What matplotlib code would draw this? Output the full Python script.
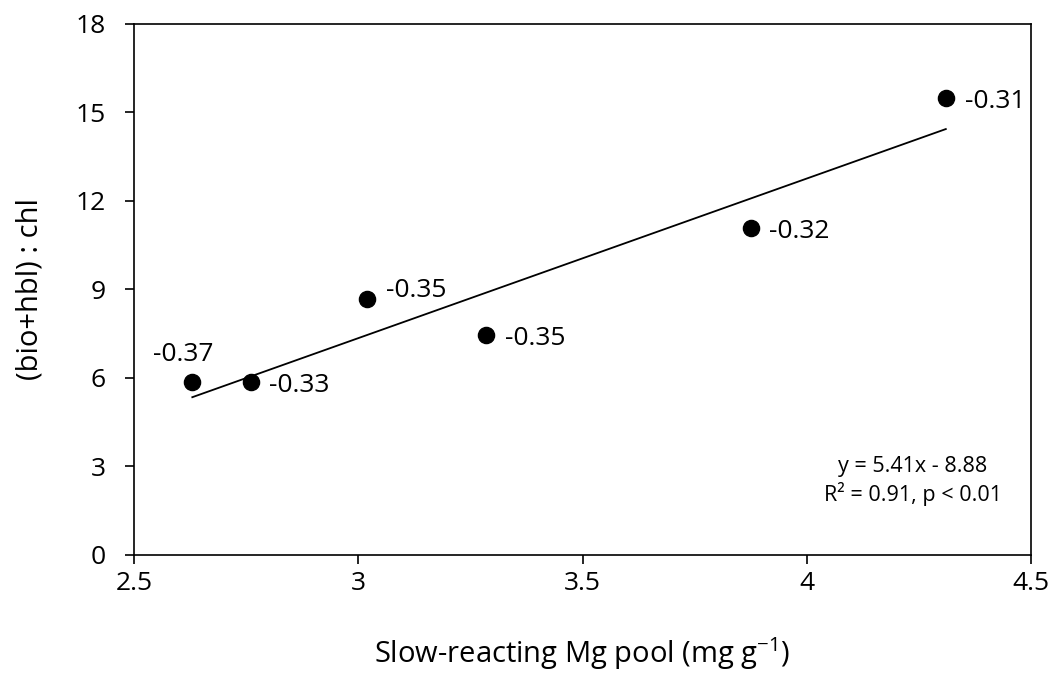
import numpy as np
import matplotlib.pyplot as plt

plt.rcParams['font.family'] = ['Open Sans', 'DejaVu Sans']
plt.rcParams['mathtext.default'] = 'regular'

# data
mg_pool = [2.63, 2.76, 3.02, 3.285, 3.875, 4.31]
ratio = [5.85, 5.85, 8.68, 7.47, 11.1, 15.5]
point_labels = ['-0.37', '-0.33', '-0.35', '-0.35', '-0.32', '-0.31']
slope, intercept = 5.41, -8.88

fig = plt.figure(figsize=(10.51, 6.84), dpi=100)
ax = fig.add_axes([0.1275, 0.1886, 0.8535, 0.7764])

ax.scatter(mg_pool, ratio, s=135, color='black', zorder=3)

# trend line over the data range
x = np.array([min(mg_pool), max(mg_pool)])
ax.plot(x, slope * x + intercept, color='black', lw=1.3)

# label offsets (points) - first label sits above-left, 3rd is nudged up
offsets = [(-28, 11), (13.5, -2.5), (13.5, 6), (13.5, -2.5), (13.5, -3), (13.5, -2.5)]
for i, (xv, yv, lab) in enumerate(zip(mg_pool, ratio, point_labels)):
    va = 'bottom' if i == 0 else 'center'
    ax.annotate(lab, (xv, yv), xytext=offsets[i], textcoords='offset points',
                fontsize=19, va=va, ha='left')

ax.text(0.868, 0.14, 'y = 5.41x - 8.88\nR² = 0.91, p < 0.01', transform=ax.transAxes,
        ha='center', va='center', fontsize=15.5, linespacing=1.25)

ax.set_xlim(2.5, 4.5)
ax.set_ylim(0, 18)
ax.set_xticks([2.5, 3, 3.5, 4, 4.5])
ax.set_xticklabels(['2.5', '3', '3.5', '4', '4.5'])
ax.set_yticks(range(0, 19, 3))
ax.tick_params(labelsize=19, length=6.5, width=1.2, direction='out')
ax.tick_params(axis='x', pad=5)
ax.tick_params(axis='y', pad=14)
for sp in ax.spines.values():
    sp.set_linewidth(1.2)

ax.set_xlabel('Slow-reacting Mg pool (mg g$^{-1}$)', fontsize=21, labelpad=28)
ax.set_ylabel('(bio+hbl) : chl', fontsize=21, labelpad=22)

fig.savefig('out.png', dpi=100)
